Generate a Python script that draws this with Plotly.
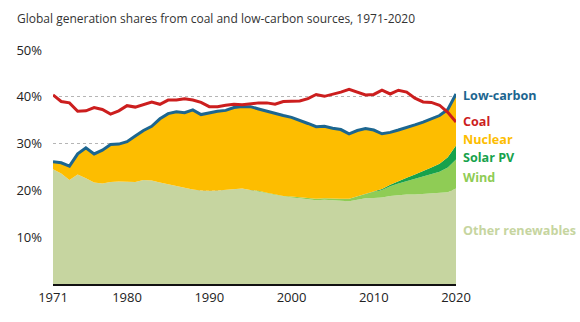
import plotly.graph_objects as go

years = list(range(1971, 2021))

# Share of global electricity generation, % (1971-2020)
other_renewables = [24.5, 23.6, 22.2, 23.4, 22.6, 21.7, 21.5, 21.8, 21.9, 21.9,
                    21.8, 22.2, 22.1, 21.7, 21.3, 21.0, 20.6, 20.2, 20.0, 19.9,
                    20.0, 20.1, 20.3, 20.4, 20.1, 19.8, 19.4, 19.0, 18.7, 18.5,
                    18.3, 18.1, 17.9, 18.0, 17.9, 17.8, 17.7, 18.0, 18.3, 18.4,
                    18.5, 18.8, 19.0, 19.1, 19.1, 19.2, 19.3, 19.4, 19.6, 20.4]
wind = [0.0] * 25 + [0.1, 0.1, 0.1, 0.1, 0.2,
                     0.2, 0.2, 0.3, 0.3, 0.3, 0.4, 0.5, 0.7, 1.0, 1.3,
                     1.6, 2.1, 2.5, 2.9, 3.4, 3.8, 4.2, 4.6, 5.3, 6.2]
solar_pv = [0.0] * 39 + [0.1, 0.2, 0.3, 0.5, 0.7, 0.9, 1.1, 1.4, 1.7, 2.2, 3.0]
nuclear = [1.6, 2.3, 3.0, 4.4, 6.5, 6.1, 7.1, 8.0, 8.0, 8.5,
           9.8, 10.6, 11.6, 13.6, 15.1, 15.8, 16.0, 17.0, 16.2, 16.7,
           16.9, 17.0, 17.4, 17.5, 17.8, 17.5, 17.4, 17.3, 17.2, 16.9,
           16.5, 16.0, 15.4, 15.4, 15.1, 14.8, 13.9, 14.1, 13.9, 13.1,
           11.8, 11.2, 10.9, 10.7, 10.6, 10.5, 10.4, 10.3, 10.2, 11.0]
coal = [40.4, 39.0, 38.7, 36.9, 37.0, 37.7, 37.3, 36.3, 37.0, 38.1,
        37.8, 38.4, 38.9, 38.4, 39.3, 39.3, 39.6, 39.3, 38.8, 37.9,
        37.9, 38.2, 38.4, 38.3, 38.5, 38.7, 38.7, 38.4, 39.0, 39.0,
        39.1, 39.6, 40.5, 40.1, 40.5, 41.0, 41.6, 41.0, 40.4, 40.5,
        41.4, 40.6, 41.4, 41.0, 39.7, 38.9, 38.8, 38.2, 36.7, 34.6]

low_carbon = [o + w + s + n for o, w, s, n in zip(other_renewables, wind, solar_pv, nuclear)]

x_ticks = [1971, 1980, 1990, 2000, 2010, 2020]
y_ticks = [10, 20, 30, 40, 50]
y_tick_text = ["10%", "20%", "30%", "40%", "50%"]

C_OTHER = "#c6d5a0"
C_WIND = "#8fcc55"
C_SOLAR = "#17a24c"
C_NUCLEAR = "#fdbd00"
C_LOWC = "#1c6690"
C_COAL = "#cc1e1e"

fig = go.Figure()

stack = [("Other renewables", other_renewables, C_OTHER),
         ("Wind", wind, C_WIND),
         ("Solar PV", solar_pv, C_SOLAR),
         ("Nuclear", nuclear, C_NUCLEAR)]
for name, vals, col in stack:
    fig.add_trace(go.Scatter(x=years, y=vals, name=name, stackgroup="lc",
                             mode="lines", line=dict(width=0, color=col),
                             fillcolor=col, showlegend=False))

fig.add_trace(go.Scatter(x=years, y=low_carbon, mode="lines", name="Low-carbon",
                         line=dict(color=C_LOWC, width=3), showlegend=False))
fig.add_trace(go.Scatter(x=years, y=coal, mode="lines", name="Coal",
                         line=dict(color=C_COAL, width=3), showlegend=False))

# Series labels placed at the right edge of the plot
labels = [("Low-carbon", 40.2, C_LOWC),
          ("Coal", 34.7, C_COAL),
          ("Nuclear", 30.9, C_NUCLEAR),
          ("Solar PV", 27.0, C_SOLAR),
          ("Wind", 22.8, C_WIND),
          ("Other renewables", 11.5, C_OTHER)]
for text, yv, col in labels:
    fig.add_annotation(x=1, xref="paper", y=yv, yref="y", text=f"<b>{text}</b>",
                       showarrow=False, xanchor="left", yanchor="middle", xshift=5,
                       font=dict(family="Open Sans", size=12.6, color=col))

fig.update_layout(
    width=580, height=322,
    margin=dict(l=53, r=124, t=50, b=38),
    paper_bgcolor="white", plot_bgcolor="white",
    font=dict(family="Open Sans", size=13, color="#222"),
    title=dict(text="Global generation shares from coal and low-carbon sources, 1971-2020",
               x=17 / 580, xref="container", xanchor="left",
               y=0.943, yanchor="middle", yref="container",
               font=dict(family="Open Sans", size=12, color="#333")),
)

fig.update_xaxes(range=[1971, 2020], tickvals=x_ticks, showgrid=False, zeroline=False,
                 showline=True, linecolor="#111", linewidth=2, ticks="",
                 tickfont=dict(size=13, color="#222"))
fig.update_yaxes(range=[0, 50], tickvals=y_ticks, ticktext=y_tick_text, showgrid=True,
                 gridcolor="#b5b5b5", griddash="dot", gridwidth=1, zeroline=False,
                 showline=False, ticks="", ticklabelstandoff=10,
                 tickfont=dict(size=13, color="#222"))

fig.write_html("out.html", config={"displayModeBar": False})
